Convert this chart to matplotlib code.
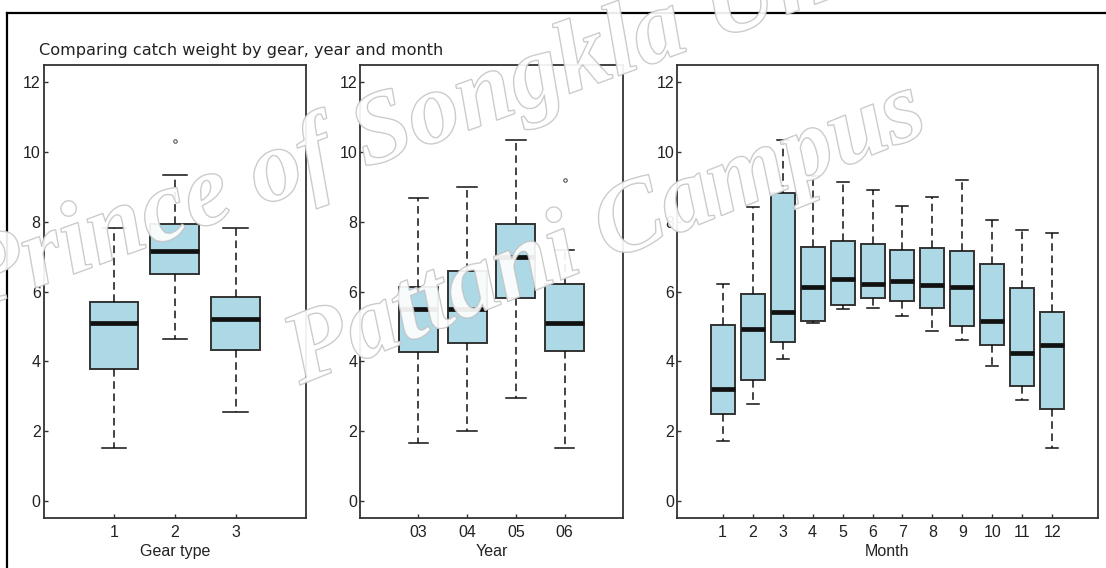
import matplotlib
matplotlib.use("Agg")
import matplotlib.pyplot as plt
import matplotlib.patheffects as pe
from matplotlib.lines import Line2D

plt.rcParams['font.family'] = ['Liberation Sans', 'DejaVu Sans']

# ---- data ----
gear_labels = ["1", "2", "3"]
gear_whislo = [1.52, 4.64, 2.54]
gear_q1     = [3.79, 6.51, 4.32]
gear_med    = [5.09, 7.17, 5.21]
gear_q3     = [5.70, 7.94, 5.83]
gear_whishi = [7.82, 9.32, 7.82]
gear_fliers = [[], [10.32], []]

year_labels = ["03", "04", "05", "06"]
year_whislo = [1.67, 2.00, 2.94, 1.52]
year_q1     = [4.28, 4.52, 5.80, 4.30]
year_med    = [5.51, 5.49, 6.99, 5.09]
year_q3     = [6.14, 6.59, 7.93, 6.22]
year_whishi = [8.67, 9.00, 10.33, 7.20]
year_fliers = [[], [], [], [9.20]]

month_labels = ["1", "2", "3", "4", "5", "6", "7", "8", "9", "10", "11", "12"]
month_whislo = [1.72, 2.77, 4.08, 5.09, 5.50, 5.54, 5.29, 4.88, 4.60, 3.88, 2.90, 1.52]
month_q1     = [2.49, 3.47, 4.56, 5.17, 5.62, 5.81, 5.74, 5.54, 5.01, 4.48, 3.31, 2.65]
month_med    = [3.22, 4.92, 5.42, 6.14, 6.35, 6.22, 6.31, 6.19, 6.14, 5.17, 4.24, 4.48]
month_q3     = [5.05, 5.94, 8.83, 7.28, 7.44, 7.36, 7.20, 7.24, 7.15, 6.79, 6.10, 5.41]
month_whishi = [6.22, 8.43, 10.33, 9.31, 9.14, 8.90, 8.46, 8.71, 9.20, 8.05, 7.77, 7.66]
month_fliers = [[] for _ in month_labels]

title_text = "Comparing catch weight by gear, year and month"
xlabels = ["Gear type", "Year", "Month"]
watermark_lines = ["Prince of Songkla University", "Pattani Campus"]

W, H = 1106, 568
fig = plt.figure(figsize=(W / 100, H / 100), dpi=100)
fig.patch.set_facecolor("white")

def px_rect(x0, x1, ytop, ybot):
    return [x0 / W, 1 - ybot / H, (x1 - x0) / W, (ybot - ytop) / H]

panels = [
    (px_rect(43.5, 306, 65, 518), gear_labels, gear_whislo, gear_q1, gear_med, gear_q3, gear_whishi, gear_fliers, xlabels[0]),
    (px_rect(360, 623, 65, 518), year_labels, year_whislo, year_q1, year_med, year_q3, year_whishi, year_fliers, xlabels[1]),
    (px_rect(677, 1098, 65, 518), month_labels, month_whislo, month_q1, month_med, month_q3, month_whishi, month_fliers, xlabels[2]),
]

edge = "#333333"
txt = "#222222"
for rect, labels, wlo, q1, med, q3, whi, fl, xl in panels:
    ax = fig.add_axes(rect)
    stats = []
    for i in range(len(labels)):
        stats.append(dict(med=med[i], q1=q1[i], q3=q3[i], whislo=wlo[i], whishi=whi[i], fliers=fl[i], label=labels[i]))
    n = len(labels)
    pos = list(range(1, n + 1))
    ax.bxp(stats, positions=pos, widths=0.8, patch_artist=True, showfliers=True,
           boxprops=dict(facecolor="#ADD8E6", edgecolor=edge, linewidth=1.4),
           medianprops=dict(color="#111111", linewidth=3.4, solid_capstyle="butt"),
           whiskerprops=dict(color="#111111", linewidth=1.1, linestyle=(0, (5, 3))),
           capprops=dict(color="#111111", linewidth=1.1),
           flierprops=dict(marker="o", markersize=2.5, markerfacecolor="none",
                           markeredgecolor="#555555", markeredgewidth=0.8),
           capwidths=0.4)
    ax.set_xlim(-0.04 * (n + 1), (n + 1) * 1.04)
    ax.set_ylim(-0.48, 12.48)
    ax.set_yticks([0, 2, 4, 6, 8, 10, 12])
    ax.set_xticks(pos)
    ax.set_xticklabels(labels)
    ax.tick_params(direction="in", length=3, width=1, color=edge, labelsize=11.5,
                   labelcolor=txt)
    ax.tick_params(axis="x", pad=5)
    ax.tick_params(axis="y", pad=2)
    for s in ax.spines.values():
        s.set_color(edge)
        s.set_linewidth(1.3)
    ax.set_xlabel(xl, fontsize=11.5, color=txt, labelpad=3)

fig.text(39 / W, 1 - 55 / H, title_text, fontsize=11.6, color=txt, va="baseline", ha="left",
         family=["DejaVu Sans"])

# screenshot border (top and left)
fig.add_artist(Line2D([7 / W, 1.0], [1 - 13 / H, 1 - 13 / H], transform=fig.transFigure, color="black", linewidth=1.6))
fig.add_artist(Line2D([7 / W, 7 / W], [1 - 13 / H, 0.0], transform=fig.transFigure, color="black", linewidth=1.6))

# watermark overlay (hollow outlined letters, nearly transparent fill)
renderer = fig.canvas.get_renderer()
probe = fig.text(0, 0, watermark_lines[1], fontsize=80, family=["Liberation Serif"],
                 style="italic", weight="bold")
wpx = probe.get_window_extent(renderer).width
probe.remove()
wm_size = 80 * 680 / wpx
wm_specs = [(watermark_lines[0], -25, 310, 20.0), (watermark_lines[1], 300, 385, 21.9)]
for text, x0, y0, rot in wm_specs:
    fig.text(x0 / W, 1 - y0 / H, text, fontsize=wm_size, family=["Liberation Serif"], style="italic",
             weight="bold", color="white", alpha=0.22, rotation=rot, rotation_mode="anchor",
             ha="left", va="baseline", zorder=10,
             path_effects=[pe.Stroke(linewidth=1.0, foreground="#c0c0c0", alpha=0.9), pe.Normal()])

fig.savefig("out.png", dpi=100)
